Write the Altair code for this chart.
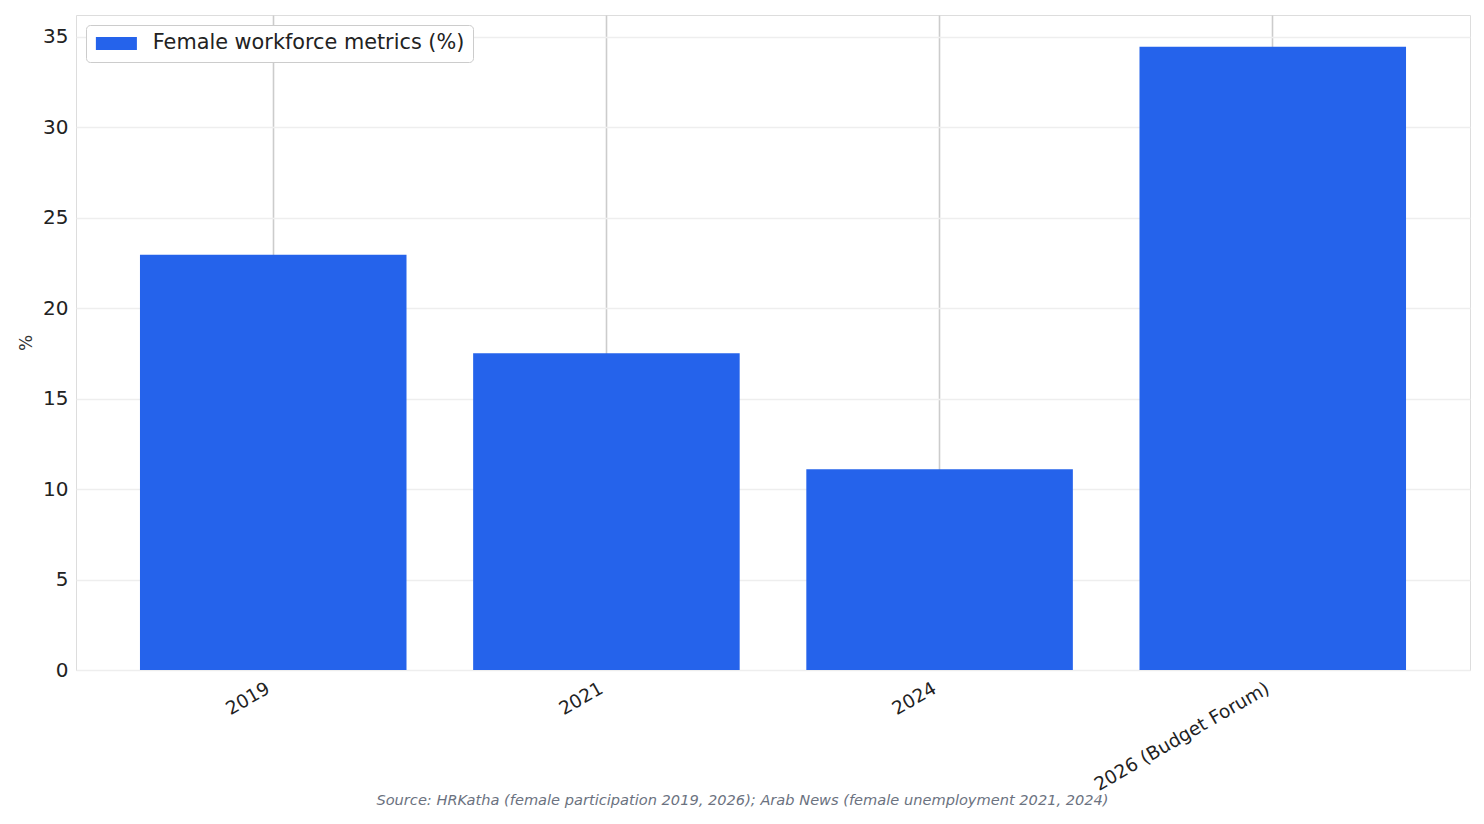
import altair as alt
import pandas as pd

categories = ["2019", "2021", "2024", "2026 (Budget Forum)"]
values = [22.95, 17.5, 11.1, 34.45]
series_name = "Female workforce metrics (%)"
source_note = "Source: HRKatha (female participation 2019, 2026); Arab News (female unemployment 2021, 2024)"

df = pd.DataFrame({"cat": categories, "val": values, "series": [series_name] * len(categories)})

FONT = "DejaVu Sans"

x_enc = alt.X(
    "cat:N",
    sort=categories,
    title=None,
    scale=alt.Scale(paddingInner=0.2, paddingOuter=0.192),
    axis=alt.Axis(
        grid=True, gridColor="#cccccc", gridWidth=1.6, bandPosition=0.5,
        domain=False, ticks=False, labelAngle=330, labelAlign="right",
        labelBaseline="bottom", labelFontSize=18.5, labelColor="#222222",
        labelFont=FONT, labelPadding=25, labelLimit=400,
    ),
)

bars = alt.Chart(df).mark_bar(color="#2563EB").encode(
    x=x_enc,
    y=alt.Y(
        "val:Q",
        title="%",
        scale=alt.Scale(domain=[0, 36.2], nice=False),
        axis=alt.Axis(
            values=[0, 5, 10, 15, 20, 25, 30, 35], grid=True, gridColor="#eeeeee",
            gridWidth=1.4, domain=False, ticks=False, labelFontSize=20,
            labelColor="#222222", labelFont=FONT, labelPadding=8,
            titleFont=FONT, titleFontSize=17, titleFontWeight="normal",
            titleColor="#333333", titlePadding=7,
        ),
    ),
    color=alt.Color(
        "series:N",
        scale=alt.Scale(range=["#2563EB"]),
        legend=alt.Legend(
            title=None, orient="top-left", offset=10,
            symbolType="M-1.31,-1L5.0,-1L5.0,1L-1.31,1Z", symbolSize=169,
            symbolStrokeWidth=0, labelFontSize=20.8, labelFont=FONT, labelColor="#222222",
            strokeColor="#cccccc", fillColor="white", padding=8, cornerRadius=4,
            labelOffset=38, labelLimit=500,
        ),
    ),
)

note = alt.Chart(pd.DataFrame({"t": [source_note]})).mark_text(
    font=FONT, fontSize=14.6, fontStyle="italic", color="#6b7280", align="center",
    baseline="middle",
).encode(text="t:N", x=alt.value(666.5), y=alt.value(786))

chart = alt.layer(bars, note).properties(
    width=1394, height=655,
    autosize=alt.AutoSizeParams(type="none"),
    padding={"left": 76, "top": 15, "right": 14, "bottom": 154},
).configure_view(stroke="#cccccc", strokeWidth=1.6).configure(background="white")

chart.save("out.html", embed_options={"renderer": "svg", "actions": False})
